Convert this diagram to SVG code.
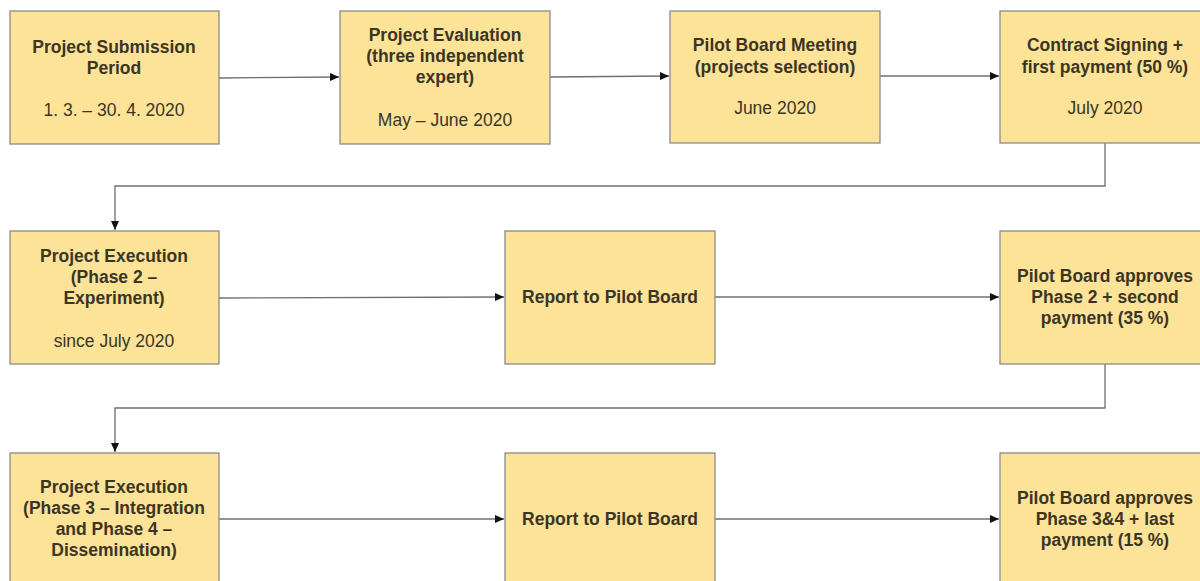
<svg xmlns="http://www.w3.org/2000/svg" width="1200" height="581" viewBox="0 0 1200 581">
<defs>
<style>
.box{fill:#fde398;stroke:#8a8a8a;stroke-width:1.3}
.t{font-family:"Liberation Sans",Arial,sans-serif;font-size:17.5px;fill:#3b3524;text-anchor:middle}
.b{font-weight:bold}
.c{fill:none;stroke:#6f6f6f;stroke-width:1.3}
</style>
<marker id="ah" markerWidth="10" markerHeight="8" refX="9" refY="4" orient="auto" markerUnits="userSpaceOnUse">
<path d="M0,0 L9,4 L0,8 Z" fill="#111"/>
</marker>
</defs>
<rect width="1200" height="581" fill="#fff"/>
<g id="connectors">
<path class="c" d="M219,78 L339,77" marker-end="url(#ah)"/>
<path class="c" d="M550,77 L669,76" marker-end="url(#ah)"/>
<path class="c" d="M880,76 L999,76" marker-end="url(#ah)"/>
<path class="c" d="M1105,143 V186 H115 V230" marker-end="url(#ah)"/>
<path class="c" d="M219,298 L504,297" marker-end="url(#ah)"/>
<path class="c" d="M715,297 L999,297" marker-end="url(#ah)"/>
<path class="c" d="M1105,364 V408 H115 V452" marker-end="url(#ah)"/>
<path class="c" d="M219,519 L504,519" marker-end="url(#ah)"/>
<path class="c" d="M715,519 L999,519" marker-end="url(#ah)"/>
</g>
<g id="n1"><rect class="box" x="10" y="11" width="209" height="133"/>
<text class="t b" x="114" y="53">Project Submission</text>
<text class="t b" x="114" y="74">Period</text>
<text class="t" x="114" y="116">1. 3. – 30. 4. 2020</text></g>
<g id="n2"><rect class="box" x="340" y="11" width="210" height="133"/>
<text class="t b" x="445" y="41">Project Evaluation</text>
<text class="t b" x="445" y="62">(three independent</text>
<text class="t b" x="445" y="83">expert)</text>
<text class="t" x="445" y="126">May – June 2020</text></g>
<g id="n3"><rect class="box" x="670" y="11" width="210" height="132"/>
<text class="t b" x="775" y="51">Pilot Board Meeting</text>
<text class="t b" x="775" y="73">(projects selection)</text>
<text class="t" x="775" y="114">June 2020</text></g>
<g id="n4"><rect class="box" x="1000" y="11" width="210" height="132"/>
<text class="t b" x="1105" y="51">Contract Signing +</text>
<text class="t b" x="1105" y="73">first payment (50 %)</text>
<text class="t" x="1105" y="114">July 2020</text></g>
<g id="n5"><rect class="box" x="10" y="231" width="209" height="133"/>
<text class="t b" x="114" y="262">Project Execution</text>
<text class="t b" x="114" y="283">(Phase 2 –</text>
<text class="t b" x="114" y="304">Experiment)</text>
<text class="t" x="114" y="347">since July 2020</text></g>
<g id="n6"><rect class="box" x="505" y="231" width="210" height="133"/>
<text class="t b" x="610" y="303">Report to Pilot Board</text></g>
<g id="n7"><rect class="box" x="1000" y="231" width="210" height="133"/>
<text class="t b" x="1105" y="282">Pilot Board approves</text>
<text class="t b" x="1105" y="303">Phase 2 + second</text>
<text class="t b" x="1105" y="324">payment (35 %)</text></g>
<g id="n8"><rect class="box" x="10" y="453" width="209" height="140"/>
<text class="t b" x="114" y="493">Project Execution</text>
<text class="t b" x="114" y="514">(Phase 3 – Integration</text>
<text class="t b" x="114" y="535">and Phase 4 –</text>
<text class="t b" x="114" y="556">Dissemination)</text></g>
<g id="n9"><rect class="box" x="505" y="453" width="210" height="140"/>
<text class="t b" x="610" y="525">Report to Pilot Board</text></g>
<g id="n10"><rect class="box" x="1000" y="453" width="210" height="140"/>
<text class="t b" x="1105" y="504">Pilot Board approves</text>
<text class="t b" x="1105" y="525">Phase 3&amp;4 + last</text>
<text class="t b" x="1105" y="546">payment (15 %)</text></g>
</svg>
